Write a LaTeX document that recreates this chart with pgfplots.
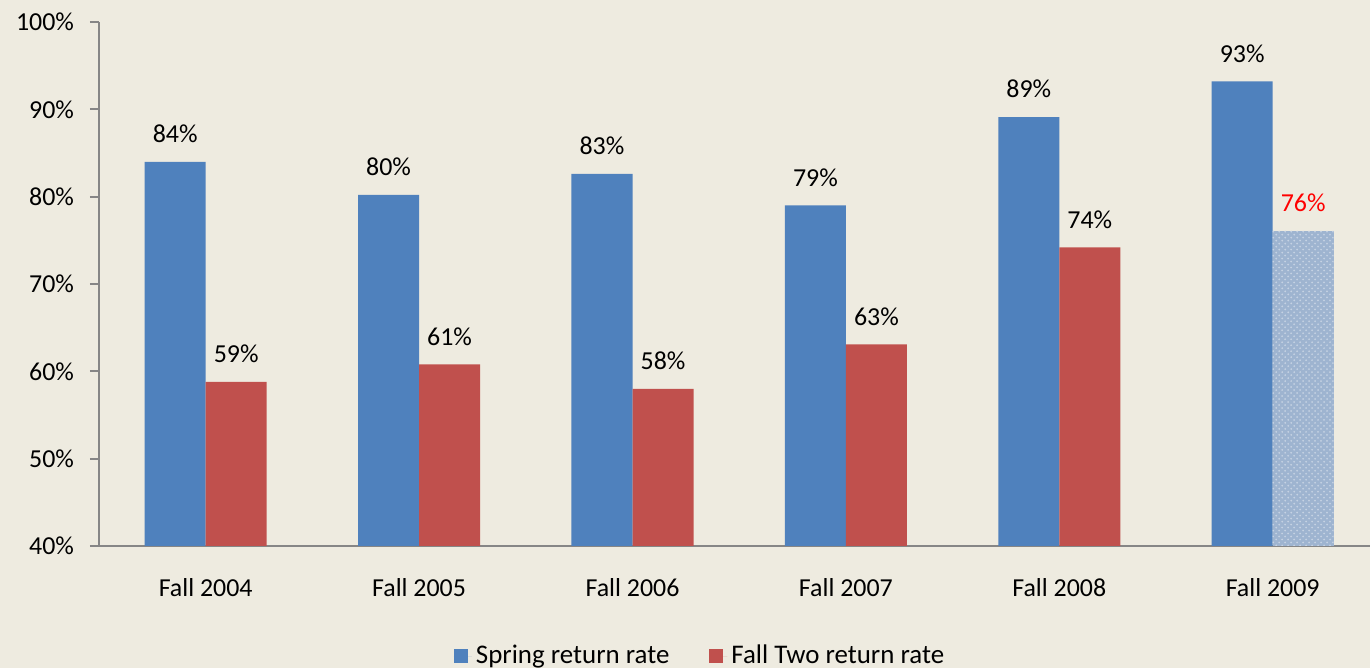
\documentclass[border=0pt]{standalone}
\usepackage{pgfplots}
\pgfplotsset{compat=1.18}
\usepackage{fontspec}
\setmainfont{Carlito}
\usetikzlibrary{patterns}
\definecolor{bg}{RGB}{238,235,224}
\definecolor{sblue}{RGB}{79,129,189}
\definecolor{sred}{RGB}{192,80,77}
\definecolor{lblue}{RGB}{158,180,208}
\definecolor{axgray}{RGB}{134,134,134}
\begin{document}
\begin{tikzpicture}
\fill[bg] (0,0) rectangle (685bp,-334bp);
\begin{axis}[
  at={(49.5bp,-11bp)}, anchor=north west,
  scale only axis, width=635.5bp, height=262bp,
  xmin=-0.5, xmax=5.456, ymin=40, ymax=100,
  axis x line=bottom, axis y line=left,
  axis line style={axgray, line width=1pt, -},
  ybar, bar width=0.286,
  xtick={0,1,2,3,4,5},
  xticklabels={Fall 2004,Fall 2005,Fall 2006,Fall 2007,Fall 2008,Fall 2009},
  x tick style={draw=none},
  extra x ticks={-0.5,0.5,1.5,2.5,3.5,4.5},
  extra x tick labels={},
  extra x tick style={tick style={axgray, line width=1pt}, major tick length=4.5bp, tick align=outside},
  ytick={40,50,...,100},
  yticklabel={\pgfmathprintnumber{\tick}\%},
  y tick style={axgray, line width=1pt},
  tick align=outside, major tick length=4.5bp,
  /pgf/number format/assume math mode=true,
  ticklabel style={font=\fontsize{13}{15}\selectfont, text=black},
  xticklabel style={yshift=-8bp},
  yticklabel style={xshift=-4.5bp},
  nodes near coords={\pgfmathprintnumber[fixed,precision=0]{\pgfplotspointmeta}\%},
  every node near coord/.append style={font=\fontsize{13}{15}\selectfont, anchor=south, yshift=6bp, text=black},
  legend style={at={(0.4737,-0.21)}, anchor=center, draw=none, fill=none,
    legend columns=2, font=\fontsize{13.5}{15}\selectfont,
    /tikz/every even column/.append style={column sep=18bp}},
  legend image code/.code={\fill[#1] (0bp,-3.5bp) rectangle (7bp,3.5bp); \path (0bp,0bp) -- (9bp,0bp);},
  clip=false,
]
\addplot[fill=sblue, draw=none, bar shift=-0.143] coordinates {(0,83.97) (1,80.2) (2,82.6) (3,79.0) (4,89.1) (5,93.2)};
\addplot[fill=sred, draw=none, bar shift=0.143] coordinates {(0,58.8) (1,60.8) (2,58.0) (3,63.1) (4,74.2)};
\addplot[fill=lblue, draw=none, bar shift=0.143, postaction={pattern=crosshatch dots, pattern color=white!40!lblue},
  every node near coord/.append style={text=red}, forget plot] coordinates {(5,76.1)};
\legend{Spring return rate, Fall Two return rate}
\end{axis}
\pgfresetboundingbox
\path (0,0) rectangle (685bp,-334bp);
\end{tikzpicture}
\end{document}
